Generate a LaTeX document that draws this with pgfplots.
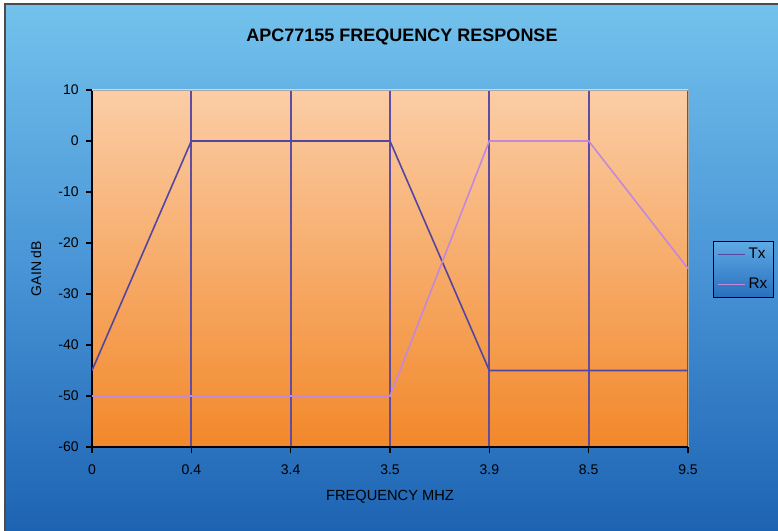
\documentclass[border=0pt]{standalone}
\usepackage{pgfplots}
\pgfplotsset{compat=1.18}
\usepackage{fontspec}
\setmainfont{Liberation Sans}
\definecolor{bgtop}{RGB}{115,194,236}
\definecolor{bgmid}{RGB}{72,148,214}
\definecolor{bgbot}{RGB}{28,98,178}
\definecolor{patop}{RGB}{251,205,166}
\definecolor{pabot}{RGB}{242,136,42}
\definecolor{txc}{RGB}{84,70,160}
\definecolor{rxc}{RGB}{196,136,218}
\definecolor{gridc}{RGB}{96,76,160}
\definecolor{lgtop}{RGB}{95,170,228}
\definecolor{lgbot}{RGB}{40,110,190}
\begin{document}
\begin{tikzpicture}[x=0.75pt,y=0.75pt]
\useasboundingbox (0,0) rectangle (778,531);
\begin{scope}
\clip (0,0) rectangle (778,531);
\fill[white] (0,0) rectangle (778,531);
\shade[top color=bgtop, bottom color=bgbot, middle color=bgmid] (5,-5) rectangle (790,527);
\draw[black!70, line width=1.2pt] (5,-5) -- (5,527) -- (790,527);
\end{scope}
\begin{axis}[
  at={(69pt,63pt)}, anchor=south west,
  scale only axis, width=447pt, height=267.75pt,
  xmin=0, xmax=6, ymin=-60, ymax=10,
  xtick={0,1,2,3,4,5,6},
  xticklabels={0,0.4,3.4,3.5,3.9,8.5,9.5},
  ytick={-60,-50,-40,-30,-20,-10,0,10},
  xmajorgrids, major x grid style={gridc, line width=1.3pt},
  axis background/.style={top color=patop, bottom color=pabot},
  axis x line*=bottom, axis y line*=left,
  axis line style={black, line width=0.9pt},
  tick align=outside, major tick length=4.5pt,
  tick style={black, line width=0.8pt},
  /pgf/number format/assume math mode=true,
  ticklabel style={font=\fontsize{10.5}{12}\selectfont},
  xticklabel style={yshift=-5pt},
  yticklabel style={xshift=-2pt},
  xlabel={FREQUENCY MHZ},
  xlabel style={at={(axis description cs:0.5,0)}, anchor=center, yshift=-37.5pt, font=\fontsize{11}{13}\selectfont},
  ylabel={GAIN dB},
  ylabel style={at={(axis description cs:0,0.5)}, anchor=center, yshift=42pt, font=\fontsize{10.5}{12}\selectfont},
  title={APC77155 FREQUENCY RESPONSE},
  title style={at={(axis description cs:0.5,1)}, anchor=center, yshift=33.5pt, xshift=9pt, font=\bfseries\fontsize{13.5}{16}\selectfont},
  legend style={at={(rel axis cs:1.042,0.577)}, anchor=north west, draw=black, line width=0.8pt,
    top color=lgtop, bottom color=lgbot, font=\fontsize{11.5}{13}\selectfont,
    row sep=9pt, inner xsep=3pt, inner ysep=3pt},
  legend cell align=left,
  legend image code/.code={\draw[#1, line width=1.2pt] (0pt,0pt) -- (20pt,0pt);},
  after end axis/.code={\draw[gray!70, line width=0.6pt] (rel axis cs:0,1) -- (rel axis cs:1,1) -- (rel axis cs:1,0);},
]
\addplot[txc, line width=1.2pt] coordinates {(0,-45) (1,0) (2,0) (3,0) (4,-45) (5,-45) (6,-45)};
\addlegendentry{Tx}
\addplot[rxc, line width=1.2pt] coordinates {(0,-50) (1,-50) (2,-50) (3,-50) (4,0) (5,0) (6,-25)};
\addlegendentry{Rx}
\end{axis}
\end{tikzpicture}
\end{document}
